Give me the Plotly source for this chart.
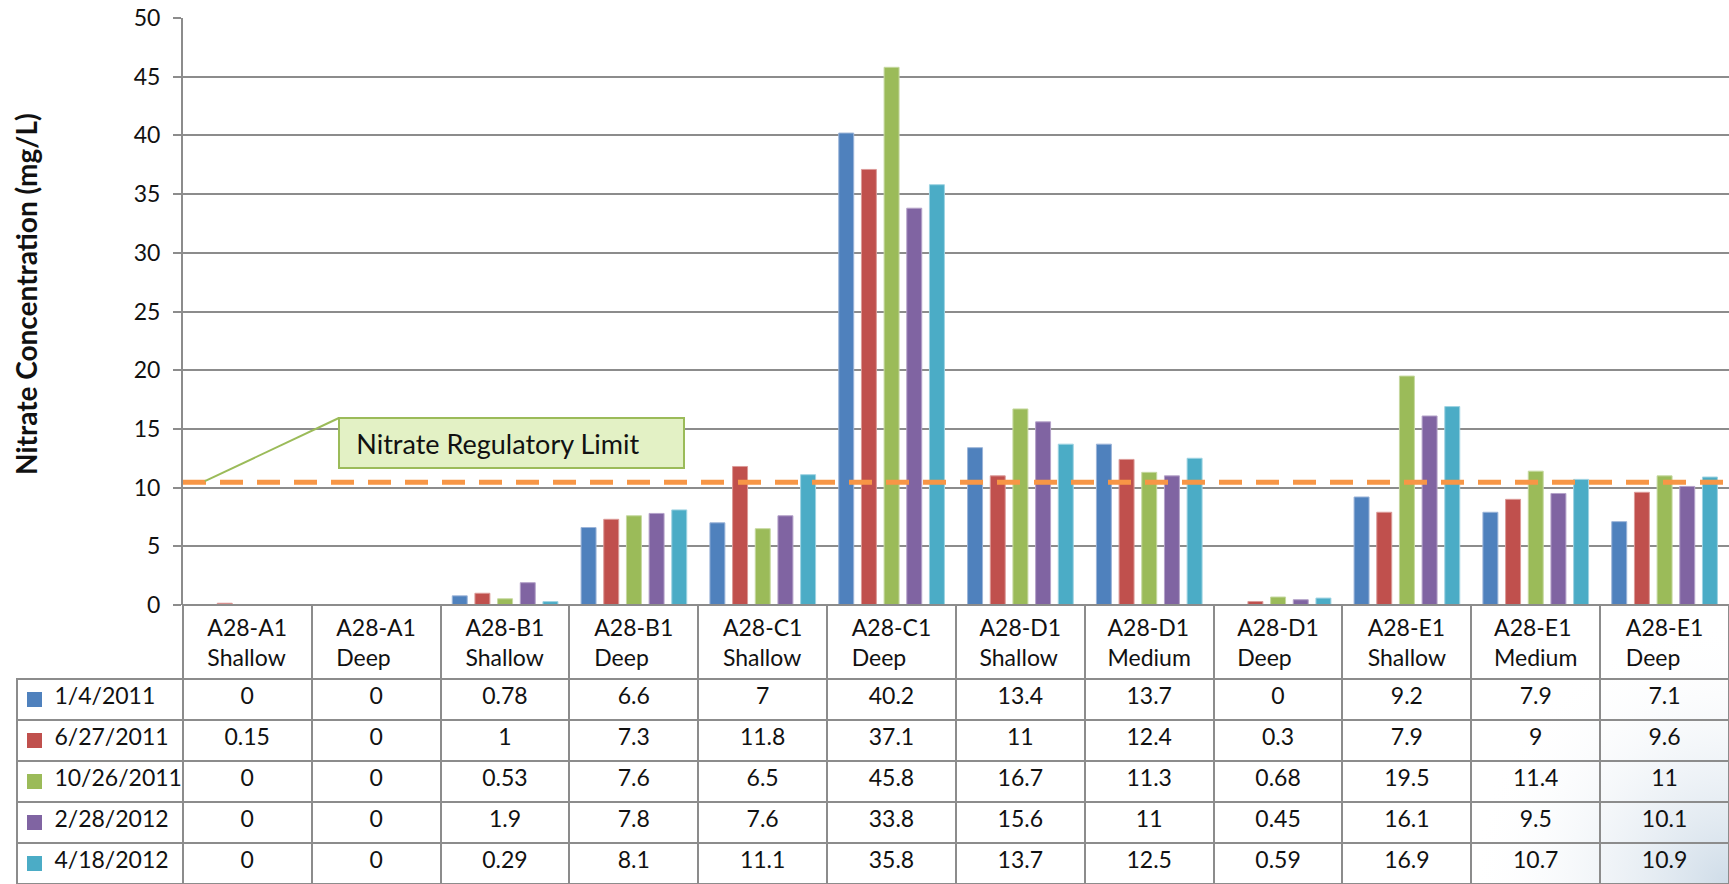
import base64
import plotly.graph_objects as go

# Monitoring wells (x categories) and the header text shown in the table
wells = ["A28-A1 Shallow", "A28-A1 Deep", "A28-B1 Shallow", "A28-B1 Deep",
         "A28-C1 Shallow", "A28-C1 Deep", "A28-D1 Shallow", "A28-D1 Medium",
         "A28-D1 Deep", "A28-E1 Shallow", "A28-E1 Medium", "A28-E1 Deep"]
well_headers = ["A28-A1<br>Shallow", "A28-A1<br>Deep", "A28-B1<br>Shallow", "A28-B1<br>Deep",
                "A28-C1<br>Shallow", "A28-C1<br>Deep", "A28-D1<br>Shallow", "A28-D1<br>Medium",
                "A28-D1<br>Deep", "A28-E1<br>Shallow", "A28-E1<br>Medium", "A28-E1<br>Deep"]

# Sampling events
dates = ["1/4/2011", "6/27/2011", "10/26/2011", "2/28/2012", "4/18/2012"]

# Nitrate concentration (mg/L) per sampling event
nitrate_2011_01_04 = [0, 0, 0.78, 6.6, 7, 40.2, 13.4, 13.7, 0, 9.2, 7.9, 7.1]
nitrate_2011_06_27 = [0.15, 0, 1, 7.3, 11.8, 37.1, 11, 12.4, 0.3, 7.9, 9, 9.6]
nitrate_2011_10_26 = [0, 0, 0.53, 7.6, 6.5, 45.8, 16.7, 11.3, 0.68, 19.5, 11.4, 11]
nitrate_2012_02_28 = [0, 0, 1.9, 7.8, 7.6, 33.8, 15.6, 11, 0.45, 16.1, 9.5, 10.1]
nitrate_2012_04_18 = [0, 0, 0.29, 8.1, 11.1, 35.8, 13.7, 12.5, 0.59, 16.9, 10.7, 10.9]

series = [nitrate_2011_01_04, nitrate_2011_06_27, nitrate_2011_10_26,
          nitrate_2012_02_28, nitrate_2012_04_18]

# Regulatory limit drawn as a dashed reference line
regulatory_limit = 10.45

colors = ["#4f81bd", "#c0504d", "#9bbb59", "#8064a2", "#4bacc6"]
edges = ["#9bb4d8", "#dc9a98", "#c6d9a0", "#b4a2c9", "#9ed3e2"]

W, H = 1729, 884
FONT = "Lato"
GRID = "#8c8c8c"
NBSP = "\u00a0"

# table geometry (pixels)
TABLE_X0 = 17
PLOT_X0 = 183
TABLE_H = H - 605
HEADER_H = 74
ROW_H = 41
KEY_COL_W = PLOT_X0 - TABLE_X0

fig = go.Figure()

for name, vals, c, e in zip(dates, series, colors, edges):
    fig.add_trace(go.Bar(
        x=wells, y=vals, name=name,
        marker=dict(color=c, line=dict(color=e, width=1)),
        showlegend=False, hoverinfo="x+y+name",
    ))

# Data table under the chart; the first column holds the sampling dates
def fmt(v):
    return f"{v:g}"

first_col = [NBSP * 5 + d for d in dates]
columns = [first_col] + [[fmt(s[i]) for s in series] for i in range(len(wells))]

fig.add_trace(go.Table(
    domain=dict(x=[TABLE_X0 / W, 1], y=[0, TABLE_H / H]),
    columnwidth=[KEY_COL_W] + [129] * len(wells),
    header=dict(
        values=[""] + well_headers,
        height=HEADER_H,
        align="center",
        fill=dict(color="rgba(255,255,255,0)"),
        line=dict(color=["rgba(0,0,0,0)"] + [GRID] * len(wells), width=2),
        font=dict(family=FONT, size=23, color="#111111"),
    ),
    cells=dict(
        values=columns,
        height=ROW_H,
        align=["left"] + ["center"] * len(wells),
        fill=dict(color="rgba(255,255,255,0)"),
        line=dict(color=GRID, width=2),
        font=dict(family=FONT, size=23, color="#111111"),
    ),
))

# Colour key squares in front of each date, on a pixel-scaled overlay axis
row_centers = [HEADER_H + ROW_H * (i + 0.5) for i in range(len(dates))]
fig.add_trace(go.Scatter(
    x=[17.5] * len(dates), y=row_centers, mode="markers",
    marker=dict(symbol="square", size=15, color=colors, line=dict(width=0)),
    xaxis="x2", yaxis="y2", showlegend=False, hoverinfo="skip", cliponaxis=False,
))

# Soft background glow in the lower right corner
svg = f"""<svg xmlns='http://www.w3.org/2000/svg' width='{W}' height='{H}'>
<defs><radialGradient id='g' cx='{W}' cy='{H}' r='260' gradientUnits='userSpaceOnUse'>
<stop offset='0' stop-color='#c2d3e2' stop-opacity='0.8'/>
<stop offset='0.5' stop-color='#d8e2ec' stop-opacity='0.35'/>
<stop offset='1' stop-color='#ffffff' stop-opacity='0'/>
</radialGradient></defs>
<rect width='{W}' height='{H}' fill='url(#g)'/></svg>"""
src = "data:image/svg+xml;base64," + base64.b64encode(svg.encode()).decode()

fig.update_layout(
    width=W, height=H,
    margin=dict(l=0, r=0, t=0, b=0),
    paper_bgcolor="white",
    plot_bgcolor="rgba(0,0,0,0)",
    barmode="group",
    bargap=0.12,
    bargroupgap=0.34,
    font=dict(family=FONT, color="#111111"),
    images=[dict(source=src, xref="paper", yref="paper", x=0, y=1,
                 sizex=1, sizey=1, sizing="stretch", layer="below")],
    xaxis=dict(
        domain=[PLOT_X0 / W, 1],
        range=[-0.5, len(wells) - 0.5],
        showticklabels=False, showgrid=False, zeroline=False,
        showline=False, ticks="", automargin=False,
    ),
    yaxis=dict(
        domain=[TABLE_H / H, 1 - 18 / H],
        range=[0, 50],
        tick0=0, dtick=5,
        showgrid=True, gridcolor=GRID, gridwidth=1.5,
        zeroline=False,
        showline=True, linecolor=GRID, linewidth=2,
        ticks="outside", ticklen=8, tickcolor=GRID, tickwidth=1.5,
        ticklabelstandoff=8,
        automargin=False,
        tickfont=dict(family=FONT, size=23, color="#111111"),
    ),
    xaxis2=dict(domain=[TABLE_X0 / W, PLOT_X0 / W], range=[0, KEY_COL_W],
                visible=False, fixedrange=True, anchor="y2"),
    yaxis2=dict(domain=[0, TABLE_H / H], range=[TABLE_H, 0],
                visible=False, fixedrange=True, anchor="x2"),
    shapes=[
        # regulatory limit
        dict(type="line", xref="x domain", yref="y", x0=0, x1=1,
             y0=regulatory_limit, y1=regulatory_limit,
             line=dict(color="#f79646", width=5, dash="23px,14px"), layer="above"),
        # leader line from the callout to the limit line
        dict(type="line", xref="x", yref="y", x0=-0.33, y0=regulatory_limit + 0.1,
             x1=0.71, y1=15.93, line=dict(color="#9bbb59", width=2), layer="above"),
    ],
    annotations=[
        dict(text="Nitrate Regulatory Limit" + NBSP * 4, xref="x", yref="y",
             x=2.05, y=13.8, showarrow=False,
             width=341, height=46, align="center",
             bgcolor="#e3f1c5", bordercolor="#9bbb59", borderwidth=2, borderpad=1,
             font=dict(family=FONT, size=27, color="#111111")),
        dict(text="<b>Nitrate Concentration (mg/L)</b>", textangle=-90,
             xref="paper", yref="paper", x=26 / W, y=1 - 294 / H,
             xanchor="center", yanchor="middle",
             showarrow=False, font=dict(family=FONT, size=28, color="#111111")),
    ],
)

fig.write_html("out.html")
